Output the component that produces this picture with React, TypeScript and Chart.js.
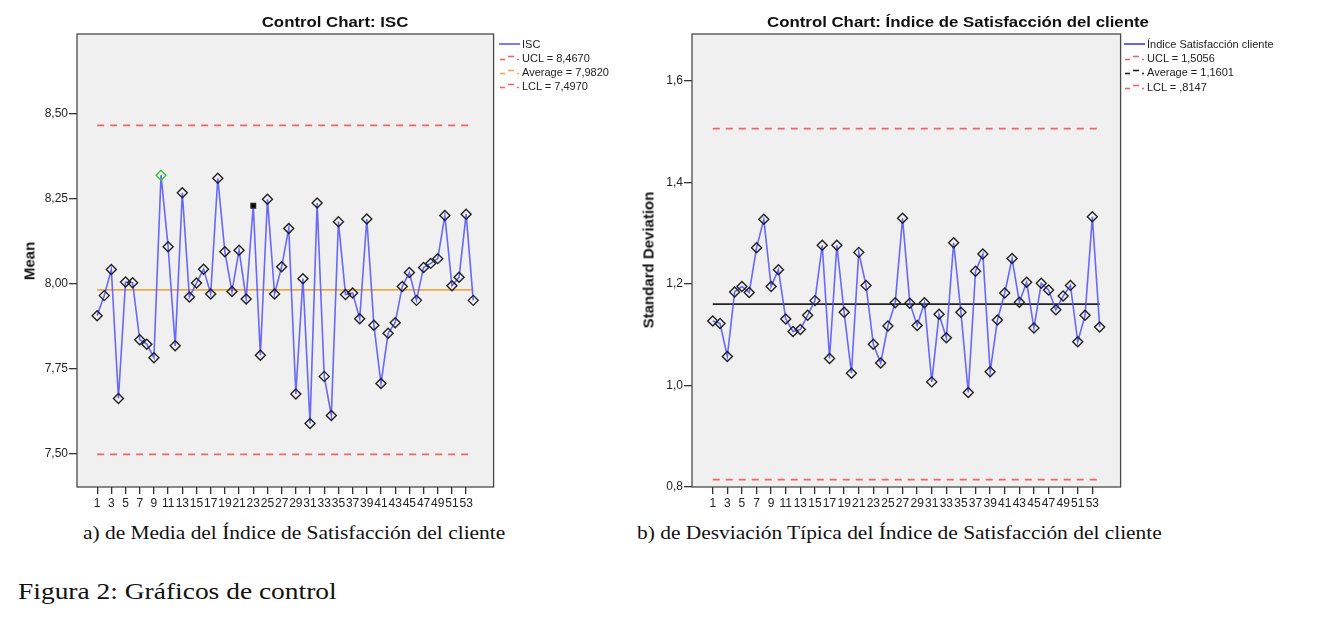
import { useEffect, useRef } from "react"
import { Chart, registerables } from "chart.js"

Chart.register(...registerables)

// Sample numbers on the x axis
const samples = [
  1, 2, 3, 4, 5, 6, 7, 8, 9, 10, 11, 12, 13, 14, 15, 16, 17, 18, 19, 20, 21, 22, 23, 24, 25, 26, 27,
  28, 29, 30, 31, 32, 33, 34, 35, 36, 37, 38, 39, 40, 41, 42, 43, 44, 45, 46, 47, 48, 49, 50, 51, 52,
  53, 54,
]
const xTickLabels = [1, 3, 5, 7, 9, 11, 13, 15, 17, 19, 21, 23, 25, 27, 29, 31, 33, 35, 37, 39, 41, 43, 45, 47, 49, 51, 53]

// a) Mean of ISC per sample
const meanValues = [
  7.906, 7.965, 8.042, 7.662, 8.005, 8.003, 7.835, 7.822, 7.782, 8.32,
  8.109, 7.817, 8.268, 7.961, 8.002, 8.043, 7.97, 8.311, 8.094, 7.977,
  8.099, 7.955, 8.23, 7.789, 8.249, 7.97, 8.05, 8.163, 7.675, 8.015,
  7.588, 8.238, 7.727, 7.612, 8.183, 7.968, 7.973, 7.897, 8.191, 7.878,
  7.706, 7.854, 7.885, 7.992, 8.033, 7.951, 8.048, 8.06, 8.074, 8.201,
  7.994, 8.019, 8.205, 7.951,
]
const meanLimits = { ucl: 8.467, average: 7.982, lcl: 7.497 }
const meanTicks = [7.5, 7.75, 8.0, 8.25, 8.5]

// b) Standard deviation per sample
const sdValues = [
  1.127, 1.122, 1.057, 1.184, 1.195, 1.183, 1.271, 1.327, 1.195, 1.228,
  1.131, 1.106, 1.11, 1.138, 1.167, 1.276, 1.053, 1.276, 1.144, 1.024,
  1.262, 1.197, 1.081, 1.044, 1.117, 1.163, 1.329, 1.162, 1.118, 1.163,
  1.007, 1.14, 1.094, 1.281, 1.144, 0.986, 1.225, 1.259, 1.027, 1.129,
  1.182, 1.25, 1.164, 1.203, 1.113, 1.201, 1.188, 1.149, 1.176, 1.197,
  1.086, 1.138, 1.332, 1.115,
]
const sdLimits = { ucl: 1.5056, average: 1.1601, lcl: 0.8147 }
const sdTicks = [0.8, 1.0, 1.2, 1.4, 1.6]

// samples flagged by SPSS rules on the mean chart
const flaggedGreen = [10]
const flaggedBlack = [23]

const FONT = "'Liberation Sans', Arial, sans-serif"
const SERIF = "'Liberation Serif', 'Times New Roman', serif"

const plotFrame = {
  id: "plotFrame",
  beforeDraw(chart: Chart) {
    const { ctx, chartArea } = chart
    ctx.save()
    ctx.fillStyle = "#f0f0f0"
    ctx.fillRect(chartArea.left, chartArea.top, chartArea.right - chartArea.left, chartArea.bottom - chartArea.top)
    ctx.restore()
  },
  afterDraw(chart: Chart) {
    const { ctx, chartArea } = chart
    ctx.save()
    ctx.strokeStyle = "#4a4a4a"
    ctx.lineWidth = 1.3
    ctx.strokeRect(chartArea.left, chartArea.top, chartArea.right - chartArea.left, chartArea.bottom - chartArea.top)
    ctx.restore()
  },
}

type ChartProps = {
  values: number[]
  limits: { ucl: number; average: number; lcl: number }
  ticks: number[]
  decimals: number
  yMin: number
  yMax: number
  avgColor: string
  yAxisWidth: number
  green?: number[]
  black?: number[]
}

function ControlChart(props: ChartProps) {
  const chartRef = useRef<HTMLCanvasElement>(null)
  const chartInstance = useRef<Chart | null>(null)

  useEffect(() => {
    if (!chartRef.current) return
    if (chartInstance.current) chartInstance.current.destroy()

    const { values, limits, ticks, decimals, yMin, yMax, avgColor, yAxisWidth } = props
    const green = props.green || []
    const black = props.black || []
    const first = samples[0]
    const last = samples[samples.length - 1]
    const limitLine = (v: number) => [
      { x: first, y: v },
      { x: last, y: v },
    ]

    const ctx = chartRef.current.getContext("2d")
    if (!ctx) return
    chartInstance.current = new Chart(ctx, {
      type: "line",
      data: {
        datasets: [
          {
            label: "series",
            data: values.map((v, i) => ({ x: samples[i], y: v })),
            borderColor: "rgba(80, 80, 255, 0.85)",
            borderWidth: 1.6,
            pointStyle: (c: any) => (black.includes(samples[c.dataIndex]) ? "rect" : "rectRot"),
            pointRadius: (c: any) => (black.includes(samples[c.dataIndex]) ? 3.2 : 5),
            pointBorderColor: (c: any) => (green.includes(samples[c.dataIndex]) ? "#3cc43c" : "#222"),
            pointBackgroundColor: (c: any) => (black.includes(samples[c.dataIndex]) ? "#000" : "rgba(0,0,0,0)"),
            pointBorderWidth: 1.4,
            tension: 0,
          },
          {
            label: "avg",
            data: limitLine(limits.average),
            borderColor: avgColor,
            borderWidth: 1.8,
            pointRadius: 0,
          },
          {
            label: "ucl",
            data: limitLine(limits.ucl),
            borderColor: "#f06464",
            borderWidth: 1.8,
            borderDash: [7, 6],
            pointRadius: 0,
          },
          {
            label: "lcl",
            data: limitLine(limits.lcl),
            borderColor: "#f06464",
            borderWidth: 1.8,
            borderDash: [7, 6],
            pointRadius: 0,
          },
        ],
      },
      options: {
        animation: false,
        responsive: true,
        maintainAspectRatio: false,
        layout: { padding: { top: 34, right: 3, left: 0, bottom: 0 } },
        plugins: { legend: { display: false }, tooltip: { enabled: false }, title: { display: false } },
        scales: {
          x: {
            type: "linear",
            min: -1.84,
            max: 56.87,
            afterBuildTicks: (scale: any) => {
              scale.ticks = xTickLabels.map((v) => ({ value: v }))
            },
            afterFit: (scale: any) => {
              scale.height = 33
            },
            grid: { display: true, drawOnChartArea: false, drawTicks: true, tickLength: 7, color: "#333", lineWidth: 1.3 },
            border: { display: false },
            ticks: {
              autoSkip: false,
              maxRotation: 0,
              padding: 2,
              color: "#222",
              font: { family: FONT, size: 12 },
              callback: (v: any) => String(v),
            },
          },
          y: {
            type: "linear",
            min: yMin,
            max: yMax,
            afterBuildTicks: (scale: any) => {
              scale.ticks = ticks.map((v) => ({ value: v }))
            },
            afterFit: (scale: any) => {
              scale.width = yAxisWidth
            },
            grid: { display: true, drawOnChartArea: false, drawTicks: true, tickLength: 8, color: "#333", lineWidth: 1.3 },
            border: { display: false },
            ticks: {
              padding: 1,
              color: "#222",
              font: { family: FONT, size: 12 },
              callback: (v: any) => Number(v).toFixed(decimals).replace(".", ","),
            },
          },
        },
      },
      plugins: [plotFrame],
    })

    return () => {
      if (chartInstance.current) {
        chartInstance.current.destroy()
        chartInstance.current = null
      }
    }
  }, [])

  return <canvas ref={chartRef} />
}

function LegendSample({ kind, color }: { kind: "solid" | "dash"; color: string }) {
  if (kind === "solid") {
    return (
      <svg width={22} height={8} style={{ display: "block" }}>
        <line x1={0} y1={4} x2={21} y2={4} stroke={color} strokeWidth={1.6} />
      </svg>
    )
  }
  return (
    <svg width={22} height={8} style={{ display: "block" }}>
      <line x1={1} y1={5.5} x2={6} y2={5.5} stroke={color} strokeWidth={1.6} />
      <line x1={9} y1={2.5} x2={15} y2={2.5} stroke={color} strokeWidth={1.6} />
      <line x1={18} y1={5.5} x2={20} y2={5.5} stroke={color} strokeWidth={1.6} />
    </svg>
  )
}

function Legend({ left, top, items }: { left: number; top: number; items: { label: string; kind: "solid" | "dash"; color: string }[] }) {
  return (
    <div style={{ position: "absolute", left, top, fontFamily: FONT, fontSize: 11, color: "#222" }}>
      {items.map((it) => (
        <div key={it.label} style={{ display: "flex", alignItems: "center", height: 14.2, whiteSpace: "nowrap" }}>
          <LegendSample kind={it.kind} color={it.color} />
          <span style={{ marginLeft: 1 }}>{it.label}</span>
        </div>
      ))}
    </div>
  )
}

const fmt4 = (v: number) => v.toFixed(4).replace(".", ",").replace(/^0,/, ",")

export default function App() {
  useEffect(() => {
    document.body.style.margin = "0"
  }, [])

  const rotated = (text: string, cx: number, cy: number) => (
    <div
      style={{
        position: "absolute",
        left: cx,
        top: cy,
        transform: "translate(-50%, -50%) rotate(-90deg)",
        fontFamily: FONT,
        fontWeight: "bold",
        fontSize: 15,
        whiteSpace: "nowrap",
        color: "#111",
      }}
    >
      {text}
    </div>
  )

  const title = (text: string, cx: number) => (
    <div
      style={{
        position: "absolute",
        left: cx,
        top: 22,
        transform: "translate(-50%, -50%) scaleX(1.2)",
        fontFamily: FONT,
        fontWeight: "bold",
        fontSize: 14,
        whiteSpace: "nowrap",
        color: "#111",
      }}
    >
      {text}
    </div>
  )

  const caption = (text: string, left: number, top: number, size: number, stretch: number) => (
    <div
      style={{
        position: "absolute",
        left,
        top,
        transform: `scaleX(${stretch})`,
        transformOrigin: "left center",
        fontFamily: SERIF,
        fontSize: size,
        whiteSpace: "nowrap",
        color: "#111",
      }}
    >
      {text}
    </div>
  )

  return (
    <div style={{ position: "relative", width: 1337, height: 625, background: "#fff", overflow: "hidden" }}>
      <div style={{ position: "absolute", left: 0, top: 0, width: 500, height: 520 }}>
        <ControlChart
          values={meanValues}
          limits={meanLimits}
          ticks={meanTicks}
          decimals={2}
          yMin={7.401}
          yMax={8.736}
          avgColor="#f0a848"
          yAxisWidth={77}
          green={flaggedGreen}
          black={flaggedBlack}
        />
      </div>
      <div style={{ position: "absolute", left: 620, top: 0, width: 507, height: 520 }}>
        <ControlChart
          values={sdValues}
          limits={sdLimits}
          ticks={sdTicks}
          decimals={1}
          yMin={0.8}
          yMax={1.692}
          avgColor="#222"
          yAxisWidth={72}
        />
      </div>

      {title("Control Chart: ISC", 335)}
      {title("Control Chart: Índice de Satisfacción del cliente", 958)}

      {rotated("Mean", 29, 261)}
      {rotated("Standard Deviation", 648, 260)}

      <Legend
        left={499}
        top={36.5}
        items={[
          { label: "ISC", kind: "solid", color: "#5a5aff" },
          { label: "UCL = " + fmt4(meanLimits.ucl), kind: "dash", color: "#f06464" },
          { label: "Average = " + fmt4(meanLimits.average), kind: "dash", color: "#f0a848" },
          { label: "LCL = " + fmt4(meanLimits.lcl), kind: "dash", color: "#f06464" },
        ]}
      />
      <Legend
        left={1124}
        top={37}
        items={[
          { label: "Índice Satisfacción cliente", kind: "solid", color: "#3c3cff" },
          { label: "UCL = " + fmt4(sdLimits.ucl), kind: "dash", color: "#f06464" },
          { label: "Average = " + fmt4(sdLimits.average), kind: "dash", color: "#222" },
          { label: "LCL = " + fmt4(sdLimits.lcl), kind: "dash", color: "#f06464" },
        ]}
      />

      {caption("a) de Media del Índice de Satisfacción del cliente", 83, 523, 18, 1.19)}
      {caption("b) de Desviación Típica del Índice de Satisfacción del cliente", 637, 523, 18, 1.19)}
      {caption("Figura 2: Gráficos de control", 18, 578, 24, 1.144)}
    </div>
  )
}
